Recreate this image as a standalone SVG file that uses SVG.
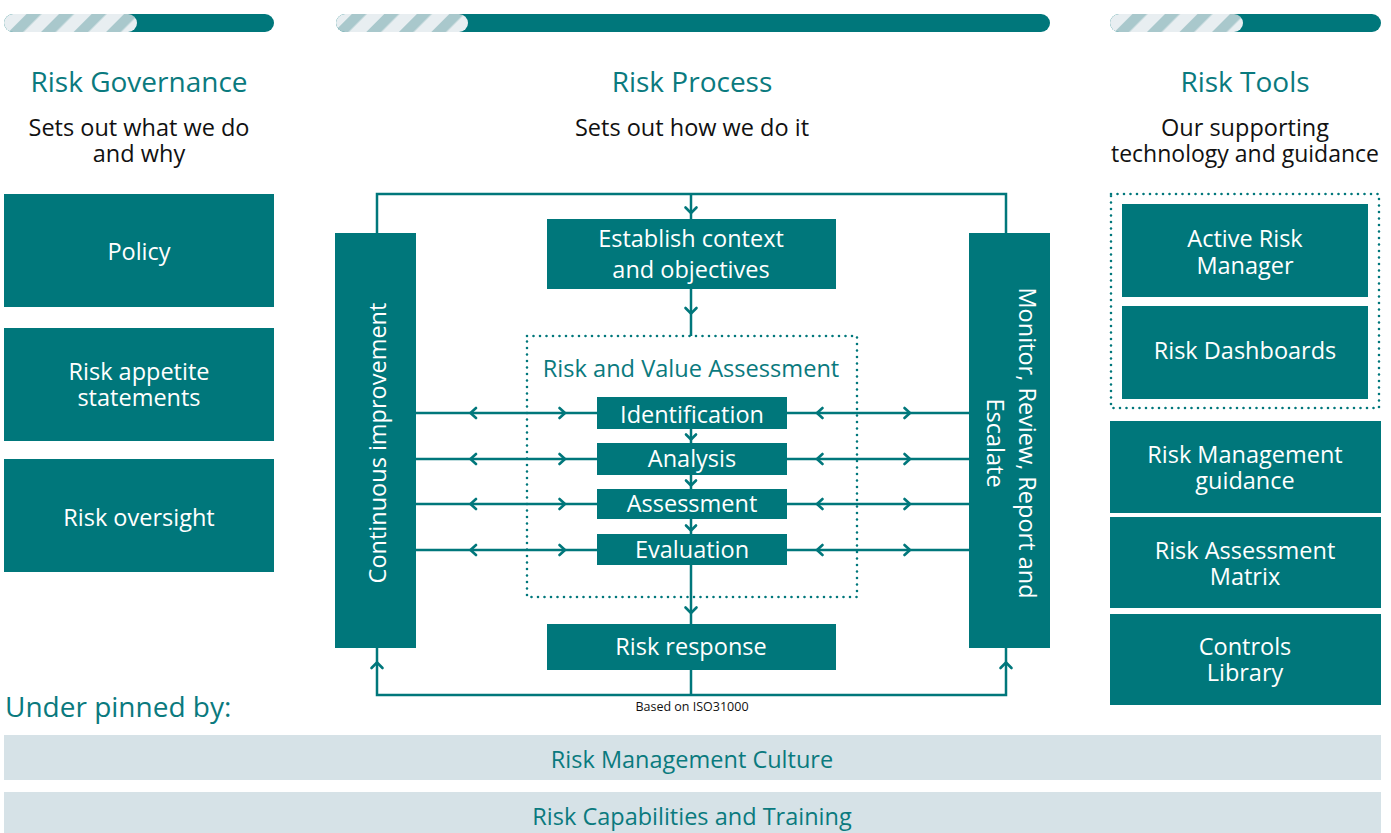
<svg xmlns="http://www.w3.org/2000/svg" width="1391" height="833" viewBox="0 0 1391 833">
<style>
text{font-family:"Open Sans","Noto Sans","Liberation Sans",sans-serif;}
.box{fill:#00777b;}
.bt{fill:#ffffff;font-size:23.5px;text-anchor:middle;}
.hd{fill:#0a7a7e;font-size:28px;text-anchor:middle;}
.sub{fill:#111111;font-size:23.5px;text-anchor:middle;}
.ln{fill:none;stroke:#00777b;stroke-width:2.5;}
.ch{fill:none;stroke:#00777b;stroke-width:2.6;stroke-linecap:round;stroke-linejoin:round;}
.dot{fill:none;stroke:#00777b;stroke-width:2.6;stroke-linecap:round;stroke-dasharray:0 6.5;}
.band{fill:#d6e2e7;}
.bandt{fill:#0a7a7e;font-size:23.5px;text-anchor:middle;}
</style>
<defs>
<pattern id="stripes" patternUnits="userSpaceOnUse" width="23" height="23" patternTransform="translate(8,0) rotate(45)">
<rect width="23" height="23" fill="#e8eef1"/>
<rect width="10.5" height="23" fill="#a9c8cc"/>
</pattern>
</defs>

<g id="top-bars">
<rect x="4" y="14" width="270" height="18" rx="9" class="box"/>
<rect x="4" y="14" width="133" height="18" rx="9" fill="url(#stripes)"/>
<rect x="336" y="14" width="714" height="18" rx="9" class="box"/>
<rect x="336" y="14" width="132" height="18" rx="9" fill="url(#stripes)"/>
<rect x="1110" y="14" width="271" height="18" rx="9" class="box"/>
<rect x="1110" y="14" width="133" height="18" rx="9" fill="url(#stripes)"/>
</g>

<g id="headings">
<text class="hd" x="139" y="92">Risk Governance</text>
<text class="sub" x="139" y="136">Sets out what we do</text>
<text class="sub" x="139" y="162">and why</text>
<text class="hd" x="692" y="92">Risk Process</text>
<text class="sub" x="692" y="136">Sets out how we do it</text>
<text class="hd" x="1245" y="92">Risk Tools</text>
<text class="sub" x="1245" y="136">Our supporting</text>
<text class="sub" x="1245" y="162" style="font-size:23px;">technology and guidance</text>
</g>

<g id="policy"><rect class="box" x="4" y="194" width="270" height="113"/><text class="bt" x="139" y="260">Policy</text></g>
<g id="risk-appetite"><rect class="box" x="4" y="328" width="270" height="113"/><text class="bt" x="139" y="380">Risk appetite</text><text class="bt" x="139" y="406">statements</text></g>
<g id="risk-oversight"><rect class="box" x="4" y="459" width="270" height="113"/><text class="bt" x="139" y="526">Risk oversight</text></g>

<g id="connectors">
<path class="ln" d="M377,233 V194 H1006 V233"/>
<path class="ln" d="M691,194 V219"/>
<path class="ch" d="M685.5,207.5 L691,213 L696.5,207.5"/>
<path class="ln" d="M691,289 V336"/>
<path class="ch" d="M685.5,308 L691,313.5 L696.5,308"/>
<path class="ln" d="M691,429 V443 M691,475 V489 M691,519 V534"/>
<path class="ch" d="M686,434.5 L691,439.5 L696,434.5"/>
<path class="ch" d="M686,480.5 L691,485.5 L696,480.5"/>
<path class="ch" d="M686,525.5 L691,530.5 L696,525.5"/>
<path class="ln" d="M691,565 V624"/>
<path class="ch" d="M685.5,607.5 L691,613 L696.5,607.5"/>
<path class="ln" d="M377,648 V695 H1006 V648 M691,670 V695"/>
<path class="ch" d="M371.5,668 L377,662.5 L382.5,668"/>
<path class="ch" d="M1000.5,668 L1006,662.5 L1011.5,668"/>
<path class="ln" d="M416,413 H597 M787,413 H969 M416,459 H597 M787,459 H969 M416,504 H597 M787,504 H969 M416,550 H597 M787,550 H969"/>
<g id="chevrons-h">
<path class="ch" d="M476,408 L470.5,413 L476,418 M559.5,408 L565,413 L559.5,418 M822.5,408 L817,413 L822.5,418 M904.5,408 L910,413 L904.5,418"/>
<path class="ch" d="M476,454 L470.5,459 L476,464 M559.5,454 L565,459 L559.5,464 M822.5,454 L817,459 L822.5,464 M904.5,454 L910,459 L904.5,464"/>
<path class="ch" d="M476,499 L470.5,504 L476,509 M559.5,499 L565,504 L559.5,509 M822.5,499 L817,504 L822.5,509 M904.5,499 L910,504 L904.5,509"/>
<path class="ch" d="M476,545 L470.5,550 L476,555 M559.5,545 L565,550 L559.5,555 M822.5,545 L817,550 L822.5,555 M904.5,545 L910,550 L904.5,555"/>
</g>
</g>

<g id="continuous-improvement"><rect class="box" x="335" y="233" width="81" height="415"/><text class="bt" transform="translate(386,443) rotate(-90)">Continuous improvement</text></g>
<g id="monitor"><rect class="box" x="969" y="233" width="81" height="415"/><text class="bt" transform="translate(1019,443) rotate(90)">Monitor, Review, Report and</text><text class="bt" transform="translate(987,443) rotate(90)">Escalate</text></g>

<g id="establish-context"><rect class="box" x="547" y="219" width="289" height="70"/><text class="bt" x="691" y="247">Establish context</text><text class="bt" x="691" y="278">and objectives</text></g>

<g id="risk-value-assessment">
<rect class="dot" x="527" y="336" width="330" height="261"/>
<text x="691" y="377" style="fill:#0a7a7e;font-size:23.6px;text-anchor:middle;">Risk and Value Assessment</text>
</g>
<g id="identification"><rect class="box" x="597" y="397" width="190" height="32"/><text class="bt" x="692" y="423">Identification</text></g>
<g id="analysis"><rect class="box" x="597" y="443" width="190" height="32"/><text class="bt" x="692" y="467">Analysis</text></g>
<g id="assessment"><rect class="box" x="597" y="489" width="190" height="30"/><text class="bt" x="692" y="512">Assessment</text></g>
<g id="evaluation"><rect class="box" x="597" y="534" width="190" height="31"/><text class="bt" x="692" y="558">Evaluation</text></g>
<g id="risk-response"><rect class="box" x="547" y="624" width="289" height="46"/><text class="bt" x="691" y="655">Risk response</text></g>
<text x="692" y="711" style="fill:#111111;font-size:12.5px;text-anchor:middle;">Based on ISO31000</text>

<g id="tools-group"><rect class="dot" x="1111" y="194" width="268" height="214"/></g>
<g id="active-risk-manager"><rect class="box" x="1122" y="204" width="246" height="93"/><text class="bt" x="1245" y="247">Active Risk</text><text class="bt" x="1245" y="274">Manager</text></g>
<g id="risk-dashboards"><rect class="box" x="1122" y="306" width="246" height="93"/><text class="bt" x="1245" y="359">Risk Dashboards</text></g>
<g id="rm-guidance"><rect class="box" x="1110" y="421" width="271" height="92"/><text class="bt" x="1245" y="463">Risk Management</text><text class="bt" x="1245" y="489">guidance</text></g>
<g id="ra-matrix"><rect class="box" x="1110" y="517" width="271" height="91"/><text class="bt" x="1245" y="559">Risk Assessment</text><text class="bt" x="1245" y="585">Matrix</text></g>
<g id="controls-library"><rect class="box" x="1110" y="614" width="271" height="91"/><text class="bt" x="1245" y="655">Controls</text><text class="bt" x="1245" y="681">Library</text></g>

<text x="5" y="717" style="fill:#0a7a7e;font-size:28px;">Under pinned by:</text>
<g id="culture"><rect class="band" x="4" y="735" width="1377" height="45"/><text class="bandt" x="692" y="768">Risk Management Culture</text></g>
<g id="capabilities"><rect class="band" x="4" y="792" width="1377" height="41"/><text class="bandt" x="692" y="825">Risk Capabilities and Training</text></g>
</svg>
